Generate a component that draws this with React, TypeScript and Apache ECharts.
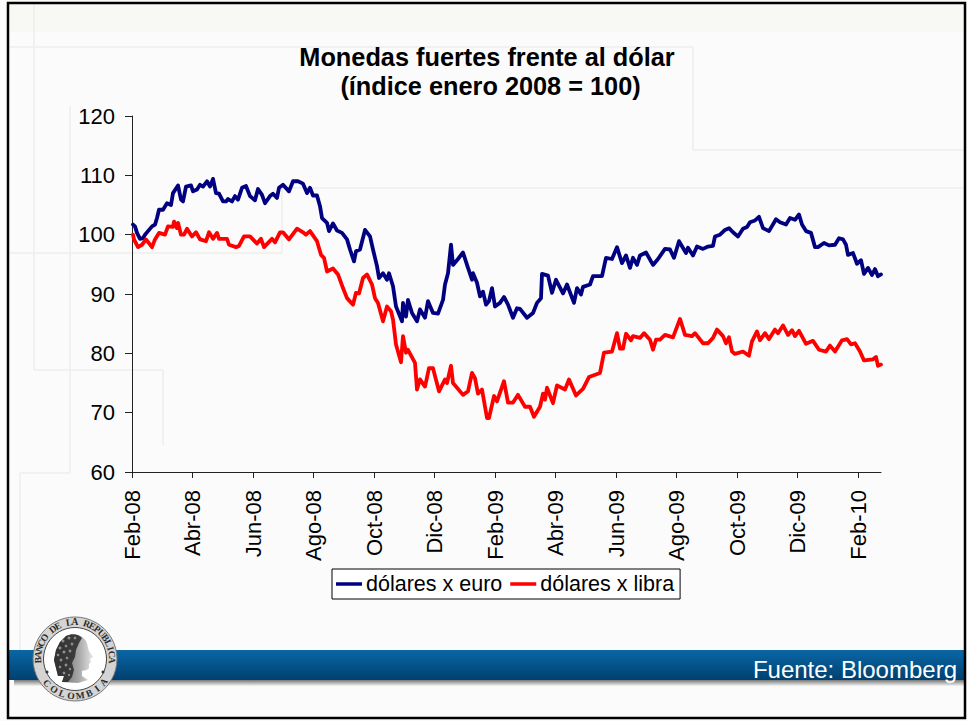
import React, { useEffect, useRef } from "react";
import * as echarts from "echarts";

const FONT = '"Liberation Sans", Arial, sans-serif';
const TITLE = "Monedas fuertes frente al dólar\n (índice enero 2008 = 100)";
const SOURCE = "Fuente: Bloomberg";
const SEAL_TOP = "BANCO DE LA REPUBLICA";
const SEAL_BOTTOM = "COLOMBIA";
const tickPositions = [0, 60.5, 121, 181.5, 242, 302.5, 363, 423.5, 484, 544.5, 605, 665.5, 726];
const tickLabels = ["Feb-08", "Abr-08", "Jun-08", "Ago-08", "Oct-08", "Dic-08", "Feb-09", "Abr-09", "Jun-09", "Ago-09", "Oct-09", "Dic-09", "Feb-10"];
const yTicks = { min: 60, max: 120, step: 10 };

const euro: [number, number][] = [
  [1,101.7],[3,101.4],[5,100.3],[8,99.3],[11,99.4],[13,100],[16,100.6],[20,101.4],[23,101.7],[25,102.8],[27,104.2],[31,104.2],[35,105.3],[39,105],[41,107],[46,108.3],[49,105.9],[51,105.6],[54,108.1],[59,108.3],[61,107.3],[65,107.6],[68,108.4],[71,108.1],[75,109],[78,108.1],[81,109.4],[84,107],[87,106.9],[91,105.6],[94,105.6],[96,106],[100,105.6],[103,106.5],[106,105.9],[110,107.9],[114,108.2],[118,106.5],[123,105.8],[126,107.7],[130,106.7],[133,105.3],[138,106.5],[141,106.9],[145,106.2],[147,107.9],[151,108.4],[157,107.3],[161,109],[166,109],[171,108.6],[175,107],[178,107.9],[181,106.6],[185,106.6],[188,104.8],[190,102.8],[195,102],[197,100.6],[201,101.9],[205,100.7],[210,100.3],[215,99.2],[218,97.5],[222,95.5],[224,97.2],[228,97.5],[233,100.8],[238,99.7],[241,97.5],[245,94.7],[247,92.7],[251,93.5],[255,92.4],[257,93.5],[261,91.3],[264,87.9],[270,85.4],[271,88.5],[274,86.2],[276,89],[280,86.8],[285,85.4],
  [288,87.4],[293,86],[296,88.8],[301,86.8],[306,86.7],[311,89],[313,91.6],[316,93.5],[319,98.3],[321,94.9],[326,95.9],[331,97],[336,94.4],[340,92.4],[341,93.5],[345,91.9],[348,89.6],[351,90.4],[354,88.2],[357,88.8],[360,91],[363,87.9],[368,88.5],[372,89.5],[376,88.2],[381,86],[385,87.6],[388,87.5],[395,86],[401,86.8],[405,88.5],[409,89.3],[410,93.4],[416,93.1],[420,90.2],[424,92.4],[431,90.1],[435,91.6],[442,88.5],[445,91],[449,89.9],[451,91.2],[458,91.6],[461,93],[470,93],[474,96.1],[480,95.9],[485,97.9],[490,95.2],[494,96.5],[498,94.4],[501,96.1],[505,94.9],[508,96.5],[514,97],[521,94.9],[526,95.9],[533,97.6],[538,97.5],[542,96.1],[547,98.9],[554,96.9],[556,97.8],[561,96.5],[565,98],[571,97.6],[576,98],[581,98.1],[583,99.7],
  [588,100],[593,100.8],[597,101.1],[601,100.4],[606,99.7],[611,101],[615,101.3],[618,102.1],[623,102.4],[627,103],[631,101.1],[637,100.6],[644,102.6],[648,102.1],[654,101.7],[658,102.8],[663,102.5],[667,103.4],[670,101.7],[674,100.6],[679,100.3],[683,97.9],[686,97.9],[692,98.6],[697,98.2],[703,98.3],[707,99.4],[711,99.2],[714,98.3],[716,96.6],[721,96.9],[725,95.1],[729,95.7],[732,93.4],[736,94.4],[740,93.2],[743,94.2],[746,93],[749,93.3],
];

const libra: [number, number][] = [
  [1,100],[2,99.2],[6,97.9],[10,98.3],[14,99.2],[20,97.9],[23,99.2],[27,100.3],[33,100],[36,101.4],[41,101.3],[42,102.2],[45,101.1],[46,102],[49,100],[52,100],[55,101],[60,99.7],[64,100.4],[68,99.2],[74,98.9],[77,100.4],[81,99.3],[85,100.3],[87,99.3],[95,99.3],[97,98.3],[104,97.9],[107,98.1],[112,99.7],[118,99.7],[125,98.5],[129,99.3],[132,97.9],[140,99.3],[143,98.7],[148,100.4],[151,100.4],[157,99.2],[165,101],[171,100.4],[174,100],[178,100.6],[185,98.9],[189,96.6],[192,96.1],[195,93.8],[201,94.3],[206,93.3],[211,91],[215,89.3],[221,88.2],[224,90.2],[227,90.1],[231,92.7],[235,93.3],[240,91.6],[243,89.3],[246,88.5],[251,85.4],[255,87.9],[259,87.1],[261,85.7],[264,81.5],[269,78.5],[271,82.9],[274,80.1],[276,80.6],[283,78.4],[285,73.9],
  [288,75.6],[293,74.4],[297,77.5],[301,77.5],[307,73.6],[313,75.6],[315,75],[319,77.9],[321,75],[331,73],[336,73.6],[340,76.7],[343,75.8],[346,73.2],[350,73.9],[355,69.1],[357,69.1],[362,72.8],[365,71.9],[372,75.3],[376,71.7],[381,71.7],[386,73],[393,71],[398,71],[402,69.3],[408,71],[411,73.2],[413,72.2],[415,74.2],[421,71.6],[425,74.6],[433,73.9],[437,75.6],[444,72.9],[451,74],[457,76],[468,76.7],[472,80.1],[480,80.3],[485,83.4],[488,80.8],[491,80.8],[494,83.3],[499,82.2],[501,82.9],[508,82.6],[512,83.4],[518,82.3],[521,80.6],[524,82.3],[528,82.3],[533,83.1],[541,82.7],[548,85.8],[553,83.1],[560,82.9],[563,83.4],[571,81.7],[576,81.7],[581,82.6],[585,84],
  [591,82.9],[594,81.7],[597,82.7],[600,80.3],[603,79.9],[611,80.3],[617,79.6],[620,82],[625,83.7],[628,82.2],[633,83.4],[637,82.4],[643,84],[646,83.4],[651,84.7],[656,83.1],[660,83.9],[663,82.9],[667,83.8],[674,81.6],[681,82.1],[687,80.6],[694,80.3],[698,81.3],[703,80.3],[710,82.2],[715,82.4],[719,81.5],[723,81.7],[728,80.3],[732,78.8],[741,79],[744,79.4],[746,77.9],[749,78.1],
];

echarts.graphic.registerShape("sealHead", echarts.graphic.extendPath(
  "M66 636 C72 633 82 634 86 641 C88 645 88 649 89 651 L93 657 L90 659 L91 662 L89 664 L89 668 C87 671 84 670 82 671 L82 676 L88 680 L78 683 L62 682 L64 676 L58 676 L56 668 L54 660 L56 650 L60 642 Z", {}));
echarts.graphic.registerShape("sealHair", echarts.graphic.extendPath(
  "M66 636 C72 633 79 634 82 638 L79 643 L76 650 L75 657 L72 663 L74 670 L72 677 L68 682 L62 682 L64 676 L58 676 L56 668 L54 660 L56 650 L60 642 Z", {}));

const sealLeaves: [number, number, number][] = [
  [63,641,1.5],[69,638,1.5],[75,638,1.3],[60,648,1.5],[66,646,1.3],[72,644,1.4],[58,655,1.3],[64,652,1.5],[70,651,1.4],[61,660,1.4],[67,658,1.3],[60,667,1.3],[66,665,1.4],[70,669,1.2],[64,673,1.3],[69,675,1.1],
];

const faint = "#eeeeec";
const seg = (x1: number, y1: number, x2: number, y2: number, stroke = faint) => ({
  type: "line", silent: true, shape: { x1, y1, x2, y2 }, style: { stroke, lineWidth: 1.5 },
});

function sealLetters(text: string, startDeg: number, stepDeg: number, radius: number, bottom: boolean) {
  const cx = 75, cy = 659;
  return text.split("").map((ch, i) => {
    const a = ((startDeg + i * stepDeg) * Math.PI) / 180;
    const x = cx + radius * Math.sin(a);
    const y = cy - radius * Math.cos(a);
    return {
      type: "text", silent: true, x, y, rotation: bottom ? -a + Math.PI : -a,
      style: { text: ch, fill: "#2a2a2a", font: 'bold 9.5px "Liberation Serif", serif', align: "center", verticalAlign: "middle" },
    };
  });
}

export default function App() {
  const ref = useRef<HTMLDivElement>(null);
  useEffect(() => {
    document.body.style.margin = "0";
    const chart = echarts.init(ref.current!, null, { renderer: "svg" });
    chart.setOption({
      animation: false,
      backgroundColor: "#fbfbfb",
      textStyle: { fontFamily: FONT },
      title: {
        text: TITLE, left: 482, top: 37, textAlign: "center",
        textStyle: { fontFamily: FONT, fontWeight: "bold", fontSize: 25.3, lineHeight: 29, color: "#000" },
      },
      grid: { left: 132, top: 116, width: 749, height: 356 },
      legend: {
        left: 332, top: 569, orient: "horizontal", padding: [4, 6, 4, 4],
        backgroundColor: "#fff", borderColor: "#000", borderWidth: 1, borderRadius: 0,
        icon: "rect", itemWidth: 26, itemHeight: 3.5, itemGap: 8,
        textStyle: { fontFamily: FONT, fontSize: 21.5, color: "#000", padding: [0, 0, 0, -1] },
        data: ["dólares x euro", "dólares x libra"],
      },
      xAxis: {
        type: "value", min: 0, max: 749, splitLine: { show: false },
        axisLine: { onZero: false, lineStyle: { color: "#222", width: 1 } },
        axisTick: { show: true, length: 6, customValues: tickPositions, lineStyle: { color: "#222" } },
        axisLabel: {
          customValues: tickPositions, rotate: 90, margin: 18, fontFamily: FONT, fontSize: 22, color: "#000",
          formatter: (v: number) => tickLabels[tickPositions.indexOf(v)] ?? "",
        },
      },
      yAxis: {
        type: "value", min: yTicks.min, max: yTicks.max, interval: yTicks.step, splitLine: { show: false },
        axisLine: { show: true, lineStyle: { color: "#222", width: 1 } },
        axisTick: { show: true, length: 7, lineStyle: { color: "#222" } },
        axisLabel: { margin: 17, fontFamily: FONT, fontSize: 22, color: "#000" },
      },
      series: [
        { name: "dólares x euro", type: "line", data: euro, symbol: "none", smooth: false, lineStyle: { color: "#000080", width: 3.8, join: "round", cap: "round" }, itemStyle: { color: "#000080" }, z: 3 },
        { name: "dólares x libra", type: "line", data: libra, symbol: "none", smooth: false, lineStyle: { color: "#ff0000", width: 3.8, join: "round", cap: "round" }, itemStyle: { color: "#ff0000" }, z: 4 },
      ],
      graphic: { elements: [
        { type: "rect", silent: true, shape: { x: 9, y: 4, width: 956, height: 28 }, style: { fill: "#f8f8f5" } },
        seg(9, 47, 693, 47), seg(693, 47, 693, 150), seg(693, 150, 965, 150),
        seg(34, 4, 34, 370), seg(34, 370, 163, 370), seg(163, 370, 163, 445),
        seg(70, 106, 70, 473), seg(20, 473, 70, 473), seg(20, 473, 20, 650),
        seg(9, 253, 282, 253), seg(282, 188, 282, 253), seg(282, 188, 965, 188),
        { type: "rect", silent: true, shape: { x: 14, y: 680, width: 951, height: 6 },
          style: { fill: new echarts.graphic.LinearGradient(0, 0, 0, 1, [{ offset: 0, color: "#777" }, { offset: 1, color: "#f4f4f2" }]) } },
        { type: "rect", silent: true, shape: { x: 9, y: 650, width: 956, height: 30 },
          style: { fill: new echarts.graphic.LinearGradient(0, 0, 0, 1, [{ offset: 0, color: "#0a67a6" }, { offset: 1, color: "#00406f" }]) } },
        { type: "text", x: 957, y: 669, style: { text: SOURCE, fill: "#fff", font: `24px ${FONT}`, align: "right", verticalAlign: "middle" } },
        { type: "circle", silent: true, shape: { cx: 75, cy: 659, r: 42 }, style: { fill: "#d4d4d4", stroke: "#777", lineWidth: 1 } },
        { type: "circle", silent: true, shape: { cx: 75, cy: 659, r: 31.5 }, style: { fill: "#fff", stroke: "#444", lineWidth: 1 } },
        { type: "sealHead", silent: true, style: { fill: new echarts.graphic.LinearGradient(0, 0, 1, 0, [{ offset: 0, color: "#555" }, { offset: 0.65, color: "#aaa" }, { offset: 1, color: "#e6e6e6" }]) } },
        { type: "sealHair", silent: true, style: { fill: "#2b2b2b", opacity: 0.85 } },
        ...sealLeaves.map(([cx, cy, r]) => ({ type: "circle", silent: true, shape: { cx, cy, r }, style: { fill: "#8f8f8f" } })),
        { type: "circle", silent: true, shape: { cx: 47, cy: 672, r: 1.5 }, style: { fill: "#333" } },
        { type: "circle", silent: true, shape: { cx: 103, cy: 672, r: 1.5 }, style: { fill: "#333" } },
        ...sealLetters(SEAL_TOP, -92, 9.2, 37, false),
        ...sealLetters(SEAL_BOTTOM, 229, -14.3, 37, true),
        { type: "rect", silent: true, shape: { x: 8, y: 3, width: 957, height: 715 }, style: { fill: "none", stroke: "#000", lineWidth: 2.5 } },
      ] },
    });
    return () => chart.dispose();
  }, []);
  return <div ref={ref} style={{ width: 967, height: 721 }} />;
}
